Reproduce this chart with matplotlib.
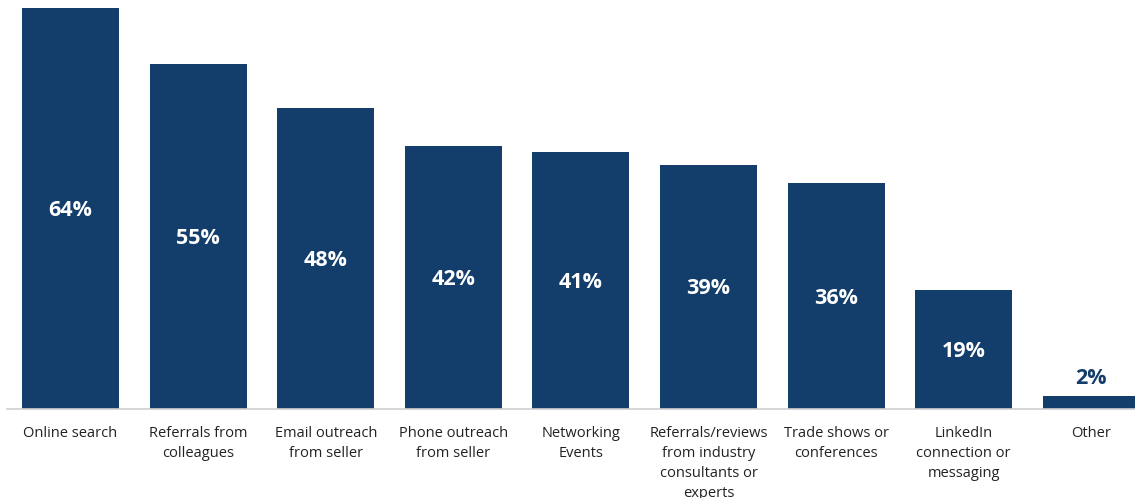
import matplotlib.pyplot as plt

plt.rcParams['font.family'] = ['Open Sans', 'DejaVu Sans']

categories = ["Online search", "Referrals from\ncolleagues", "Email outreach\nfrom seller",
              "Phone outreach\nfrom seller", "Networking\nEvents",
              "Referrals/reviews\nfrom industry\nconsultants or\nexperts",
              "Trade shows or\nconferences", "LinkedIn\nconnection or\nmessaging", "Other"]
values = [64, 55, 48, 42, 41, 39, 36, 19, 2]

navy = '#133e6b'

fig = plt.figure(figsize=(11.35, 4.98), dpi=100)
ax = fig.add_axes([7 / 1135, 89 / 498, 1128 / 1135, 401 / 498])

x = range(len(values))
ax.bar(x, values, width=0.76, color=navy)
ax.set_xlim(-0.498, 8.343)
ax.set_ylim(0, 64)

# value labels: inside the bar, or above it when the bar is too short
for i, v in enumerate(values):
    if v > 10:
        ax.text(i, v / 2 - 0.3, f"{v}%", ha='center', va='center', color='white',
                fontsize=15.5, fontweight='bold')
    else:
        ax.text(i, v + 2.8, f"{v}%", ha='center', va='center', color=navy,
                fontsize=15.5, fontweight='bold', clip_on=False)

ax.set_xticks(list(x))
ax.set_xticklabels(categories, fontsize=10.5, color='#222222', linespacing=1.45)
ax.tick_params(axis='x', length=0, pad=12)
ax.set_yticks([])
for side in ['top', 'right', 'left']:
    ax.spines[side].set_visible(False)
ax.spines['bottom'].set_color('#d0d0d0')
ax.spines['bottom'].set_linewidth(1.2)

fig.savefig('out.png', dpi=100)
